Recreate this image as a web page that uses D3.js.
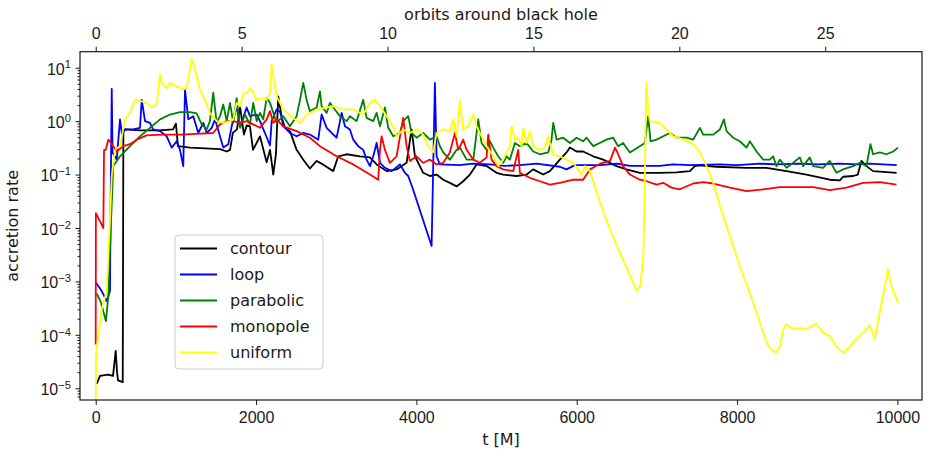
<!DOCTYPE html>
<html>
<head>
<meta charset="utf-8">
<script src="https://cdn.jsdelivr.net/npm/d3@7"></script>
<style>
    body { margin: 0; background: #fff; }
    svg { font-family: "DejaVu Sans", sans-serif; }
    .axis text { font-size: 16px; fill: #1a1a1a; }
    .axis line { stroke: #1a1a1a; }
    .axis .domain { display: none; }
    .label { font-size: 16px; fill: #1a1a1a; }
    .series { fill: none; stroke-width: 1.8; stroke-linejoin: round; }
</style>
</head>
<body>
<div id="chart"></div>
<script>
"use strict";

// series names and colours, in drawing order
const seriesNames = ["contour", "loop", "parabolic", "monopole", "uniform"];
const seriesColors = ["#000000", "#0000ff", "#008000", "#ff0000", "#ffff00"];

// [t in M, accretion rate]
const contour = [[12,1.2e-5],[54,1.7e-5],[153,1.8e-5],[216,1.7e-5],[249,5e-5],[266,2e-5],[278,1.4e-5],[337,1.3e-5],[345,0.65],[365,0.7],[552,0.67],[802,0.67],[964,0.7],[1000,0.9],[1026,0.34],[1176,0.32],[1363,0.31],[1550,0.3],[1634,0.27],[1675,0.29],[1712,0.61],[1762,0.7],[1800,1.9],[1849,0.56],[1883,0.83],[1924,0.8],[1962,0.29],[2049,0.52],[2132,0.17],[2174,0.29],[2215,0.1],[2248,0.24],[2277,2.9],[2339,0.8],[2423,0.65],[2506,0.29],[2589,0.19],[2672,0.13],[2756,0.18],[2834,0.155],[2963,0.116],[3025,0.22],[3130,0.24],[3296,0.22],[3420,0.21],[3504,0.155],[3629,0.116],[3753,0.125],[3878,0.166],[3940,0.7],[3982,0.22],[4085,0.108],[4169,0.094],[4252,0.1],[4335,0.08],[4418,0.07],[4502,0.06],[4584,0.075],[4668,0.1],[4751,0.155],[4876,0.144],[5000,0.108],[5083,0.1],[5250,0.094],[5375,0.1],[5457,0.125],[5582,0.1],[5665,0.116],[5790,0.19],[5873,0.26],[5915,0.32],[5998,0.27],[6080,0.27],[6205,0.22],[6330,0.19],[6497,0.144],[6621,0.125],[6787,0.108],[7037,0.108],[7245,0.11],[7411,0.116],[7474,0.144],[7536,0.148],[7744,0.14],[8118,0.134],[8367,0.134],[8617,0.116],[8866,0.1],[9157,0.08],[9282,0.078],[9323,0.091],[9447,0.094],[9506,0.1],[9552,0.18],[9614,0.144],[9697,0.116],[9990,0.108]];

const loop = [[4,9.4e-4],[75,6.6e-4],[137,4.3e-4],[178,6.6e-4],[191,0.19],[200,4.0],[210,0.26],[262,0.19],[303,1.08],[328,0.56],[365,0.7],[465,0.7],[552,0.75],[574,2.5],[615,1.0],[677,0.93],[715,0.7],[802,0.65],[885,0.52],[948,0.32],[1010,0.42],[1051,0.29],[1092,0.144],[1114,3.9],[1155,1.08],[1217,1.24],[1279,0.6],[1342,0.93],[1384,0.6],[1447,0.75],[1488,1.08],[1550,0.52],[1591,0.32],[1654,0.37],[1696,0.8],[1758,1.9],[1800,0.8],[1883,1.8],[1924,1.24],[2008,1.33],[2049,1.0],[2111,0.6],[2174,0.35],[2195,1.0],[2257,1.66],[2298,1.5],[2361,0.75],[2423,0.6],[2506,0.52],[2589,0.6],[2672,0.56],[2776,0.45],[2818,1.33],[2881,0.75],[2943,0.6],[3005,0.49],[3068,1.43],[3109,0.8],[3171,0.7],[3212,0.45],[3275,0.34],[3337,0.29],[3379,0.19],[3421,0.144],[3462,0.22],[3504,0.39],[3546,0.166],[3608,0.134],[3691,0.116],[3795,0.155],[3857,0.108],[3898,0.094],[3960,0.052],[4190,0.0046],[4231,5.2],[4252,0.22],[4293,0.155],[4543,0.15],[4700,0.16],[4917,0.155],[5100,0.145],[5291,0.15],[5500,0.16],[5790,0.14],[5873,0.125],[5977,0.15],[6291,0.15],[6500,0.16],[6665,0.145],[7037,0.145],[7200,0.155],[7411,0.15],[7785,0.155],[8000,0.15],[8283,0.16],[8500,0.155],[8782,0.16],[9000,0.155],[9282,0.16],[9500,0.155],[9656,0.16],[9992,0.15]];

const parabolic = [[12,6e-4],[66,4e-4],[128,1.8e-4],[157,5.3e-4],[187,0.0093],[219,0.144],[303,0.22],[428,0.34],[552,0.52],[677,0.75],[802,1.08],[927,1.33],[1051,1.47],[1176,1.47],[1259,1.4],[1322,0.87],[1384,0.7],[1425,1.0],[1466,3.4],[1509,0.93],[1550,1.24],[1591,2.05],[1634,1.0],[1675,2.2],[1716,0.93],[1758,2.7],[1800,0.75],[1862,1.33],[1924,0.87],[1965,2.2],[2008,1.0],[2049,1.43],[2090,1.08],[2132,2.7],[2174,2.2],[2257,0.93],[2298,1.08],[2339,1.24],[2423,0.8],[2506,1.24],[2548,2.5],[2589,5.2],[2631,2.5],[2672,1.54],[2756,1.8],[2797,3.6],[2818,1.9],[2881,1.43],[2922,2.2],[2963,1.8],[3046,1.24],[3130,1.0],[3171,1.24],[3254,1.0],[3337,2.5],[3379,1.15],[3462,1.0],[3504,1.43],[3546,0.8],[3608,1.8],[3649,0.75],[3711,0.52],[3795,0.6],[3836,1.0],[3898,1.24],[3940,0.6],[4003,0.49],[4085,0.6],[4169,0.45],[4252,0.52],[4293,0.34],[4335,0.26],[4418,0.19],[4502,0.29],[4543,0.32],[4627,0.19],[4710,0.19],[4772,1.08],[4813,0.39],[4876,0.29],[4917,0.42],[4958,0.32],[5020,0.22],[5083,0.166],[5125,0.22],[5166,0.19],[5229,0.39],[5291,0.34],[5375,0.39],[5457,0.27],[5541,0.24],[5644,0.26],[5686,0.45],[5707,0.93],[5749,0.45],[5831,0.49],[5915,0.39],[5998,0.49],[6080,0.42],[6123,0.49],[6205,0.34],[6288,0.39],[6372,0.45],[6455,0.49],[6517,0.34],[6579,0.39],[6663,0.26],[6787,0.34],[6850,0.39],[6891,1.24],[6921,0.42],[6996,0.45],[7079,0.52],[7162,0.6],[7245,0.49],[7370,0.49],[7453,0.45],[7536,0.75],[7578,0.56],[7703,0.56],[7786,0.7],[7836,1.08],[7869,0.65],[7951,0.49],[8035,0.42],[8118,0.32],[8160,0.42],[8243,0.27],[8326,0.19],[8409,0.19],[8450,0.22],[8492,0.144],[8534,0.19],[8617,0.134],[8700,0.166],[8783,0.21],[8824,0.144],[8907,0.21],[8949,0.144],[9073,0.134],[9157,0.18],[9240,0.108],[9323,0.125],[9447,0.144],[9531,0.166],[9614,0.144],[9664,0.37],[9697,0.24],[9780,0.26],[9864,0.24],[9947,0.27],[10009,0.32]];

const monopole = [[0,6.6e-5],[2,0.019],[54,0.0133],[95,0.01],[104,0.29],[125,0.29],[157,0.45],[203,0.37],[262,0.27],[344,0.34],[428,0.37],[511,0.45],[636,0.54],[843,0.56],[1051,0.56],[1259,0.58],[1466,0.6],[1550,0.87],[1634,1.0],[1716,1.0],[1800,0.93],[1883,1.0],[1965,0.87],[2049,0.75],[2132,1.08],[2174,1.54],[2215,0.93],[2257,1.08],[2339,0.8],[2506,0.65],[2672,0.49],[2797,0.34],[3005,0.22],[3212,0.155],[3421,0.1],[3524,0.08],[3546,0.29],[3566,0.52],[3608,0.29],[3670,0.166],[3753,0.22],[3836,1.15],[3878,0.34],[3919,0.18],[4003,0.22],[4085,0.166],[4169,0.19],[4252,0.155],[4335,0.166],[4418,0.26],[4480,0.6],[4522,0.29],[4584,0.45],[4627,0.29],[4710,0.19],[4793,0.166],[4876,0.21],[4896,0.56],[4938,0.19],[5000,0.144],[5083,0.125],[5208,0.116],[5270,0.29],[5291,0.108],[5416,0.087],[5541,0.075],[5665,0.065],[5790,0.07],[5956,0.08],[6080,0.08],[6165,0.125],[6291,0.16],[6415,0.18],[6478,0.32],[6517,0.24],[6579,0.144],[6663,0.1],[6787,0.08],[6871,0.075],[6996,0.065],[7079,0.07],[7183,0.057],[7287,0.053],[7453,0.068],[7578,0.072],[7703,0.068],[7911,0.057],[8118,0.049],[8326,0.053],[8534,0.058],[8949,0.058],[9157,0.051],[9365,0.057],[9572,0.07],[9780,0.072],[9989,0.065]];

const uniform = [[0,6.2e-6],[5,4.5e-5],[75,3e-4],[137,6.5e-4],[178,0.014],[200,0.094],[241,0.29],[303,0.34],[365,1.08],[428,1.43],[490,2.5],[552,2.4],[636,2.2],[698,1.8],[761,2.05],[802,7.5],[823,5.2],[885,4.2],[927,5.2],[1010,4.5],[1092,3.9],[1135,4.2],[1197,14.7],[1238,9.3],[1301,3.9],[1363,2.5],[1425,1.43],[1509,1.0],[1591,0.93],[1675,1.0],[1716,1.08],[1758,2.2],[1800,1.9],[1841,3.2],[1903,3.6],[1924,4.2],[1965,3.4],[2008,2.5],[2070,2.7],[2132,2.5],[2174,3.4],[2195,11.5],[2215,7.0],[2257,2.9],[2339,1.66],[2464,1.15],[2548,0.93],[2631,1.33],[2756,1.66],[2963,1.9],[3088,1.66],[3212,1.66],[3337,1.33],[3421,2.2],[3483,2.5],[3546,1.9],[3629,1.24],[3711,0.8],[3753,0.52],[3836,0.7],[3919,0.6],[4003,0.7],[4085,0.56],[4148,0.34],[4210,0.26],[4252,0.6],[4335,0.7],[4418,0.65],[4460,1.08],[4502,0.52],[4543,2.4],[4584,0.7],[4646,0.8],[4710,1.33],[4751,0.8],[4813,0.52],[4876,0.34],[4958,0.22],[5020,0.144],[5083,0.19],[5166,0.34],[5187,0.8],[5229,0.45],[5270,0.49],[5312,0.34],[5333,0.75],[5375,0.39],[5416,0.65],[5457,0.34],[5541,0.29],[5603,0.32],[5644,0.52],[5665,0.39],[5707,0.24],[5790,0.22],[5873,0.19],[5956,0.166],[6018,0.125],[6060,0.1],[6102,0.144],[6165,0.116],[6291,0.03],[6415,0.0093],[6540,0.0034],[6665,0.0013],[6748,6.6e-4],[6789,8e-4],[6830,0.0026],[6851,0.094],[6864,3.4],[6871,5.2],[6891,1.66],[6912,1.0],[7037,0.93],[7120,0.7],[7203,0.52],[7333,0.45],[7458,0.37],[7536,0.26],[7619,0.144],[7703,0.07],[7786,0.026],[7911,0.007],[8035,0.0019],[8160,6e-4],[8284,1.7e-4],[8367,7.1e-5],[8430,5.2e-5],[8492,4.6e-5],[8534,6e-5],[8575,1.26e-4],[8617,1.6e-4],[8700,1.26e-4],[8783,1.35e-4],[8866,1.26e-4],[8907,1.4e-4],[8990,1.6e-4],[9073,1.1e-4],[9157,9.4e-5],[9240,6e-5],[9323,4.6e-5],[9406,6e-5],[9489,8.3e-5],[9572,1.1e-4],[9656,1.5e-4],[9718,8.3e-5],[9780,2.6e-4],[9843,8.1e-4],[9884,0.0017],[9926,8.1e-4],[10009,3.9e-4]];

// axes
const tTicks = [0, 2000, 4000, 6000, 8000, 10000];
const orbitTicks = [0, 5, 10, 15, 20, 25];
const orbitPeriod = 364;           // M per orbit
const yExponents = [-5, -4, -3, -2, -1, 0, 1];
const tDomain = [-196, 10307];
const yDomain = [Math.pow(10, -5.22), Math.pow(10, 1.3)];

class AccretionChart {

    constructor(selector) {
        this.width = 937;
        this.height = 456;
        this.margin = {top: 51.7, right: 15, bottom: 56, left: 80};
        this.svg = d3.select(selector)
            .append("svg")
            .attr("width", this.width)
            .attr("height", this.height);
    }

    build() {
        const m = this.margin;
        const w = this.width - m.left - m.right;
        const h = this.height - m.top - m.bottom;
        const svg = this.svg;
        const g = svg.append("g").attr("transform", `translate(${m.left},${m.top})`);

        const x = d3.scaleLinear().domain(tDomain).range([0, w]);
        const xOrbit = d3.scaleLinear().domain(tDomain.map(t => t / orbitPeriod)).range([0, w]);
        const y = d3.scaleLog().domain(yDomain).range([h, 0]);

        svg.append("defs").append("clipPath").attr("id", "plot-clip")
            .append("rect").attr("width", w).attr("height", h);

        // data lines
        const line = d3.line().x(d => x(d[0])).y(d => y(d[1]));
        const allSeries = [contour, loop, parabolic, monopole, uniform];
        const lines = g.append("g").attr("clip-path", "url(#plot-clip)");
        allSeries.forEach((data, i) => {
            lines.append("path")
                .datum(data)
                .attr("class", "series")
                .attr("stroke", seriesColors[i])
                .attr("d", line);
        });

        // bottom axis
        g.append("g")
            .attr("class", "axis")
            .attr("transform", `translate(0,${h})`)
            .call(d3.axisBottom(x).tickValues(tTicks).tickSize(5).tickPadding(7).tickFormat(d3.format("d")));

        // top axis (orbits)
        g.append("g")
            .attr("class", "axis")
            .call(d3.axisTop(xOrbit).tickValues(orbitTicks).tickSize(5).tickPadding(8).tickFormat(d3.format("d")));

        // left log axis, minor ticks first
        const minor = [];
        for (let e = -6; e <= 1; e++) {
            for (let k = 2; k <= 9; k++) {
                const v = k * Math.pow(10, e);
                if (v >= yDomain[0] && v <= yDomain[1]) minor.push(v);
            }
        }
        g.append("g")
            .attr("class", "axis")
            .call(d3.axisLeft(y).tickValues(minor).tickSize(2.5).tickFormat(""));

        const yAxis = g.append("g")
            .attr("class", "axis")
            .call(d3.axisLeft(y).tickValues(yExponents.map(e => Math.pow(10, e))).tickSize(4.5).tickFormat(""));
        yAxis.selectAll(".tick").each(function (d) {
            const e = Math.round(Math.log10(d));
            const text = d3.select(this).append("text")
                .attr("x", -9)
                .attr("dy", "0.4em")
                .attr("text-anchor", "end");
            text.append("tspan").text("10");
            text.append("tspan")
                .attr("dy", "-0.55em")
                .style("font-size", "11.2px")
                .text(e < 0 ? "\u2212" + (-e) : String(e));
        });

        // frame
        g.append("rect")
            .attr("width", w)
            .attr("height", h)
            .attr("fill", "none")
            .attr("stroke", "#1a1a1a")
            .attr("stroke-width", 1.2);

        // axis titles
        svg.append("text").attr("class", "label")
            .attr("text-anchor", "middle")
            .attr("x", m.left + w / 2).attr("y", 445)
            .text("t [M]");
        svg.append("text").attr("class", "label")
            .attr("text-anchor", "middle")
            .attr("x", m.left + w / 2).attr("y", 19.5)
            .text("orbits around black hole");
        svg.append("text").attr("class", "label")
            .attr("text-anchor", "middle")
            .attr("transform", `translate(18,${m.top + h / 2}) rotate(-90)`)
            .text("accretion rate");

        // legend
        const legend = svg.append("g").attr("transform", "translate(175,235)");
        legend.append("rect")
            .attr("width", 148).attr("height", 134)
            .attr("rx", 4)
            .attr("fill", "#fff").attr("fill-opacity", 0.8)
            .attr("stroke", "#cccccc");
        seriesNames.forEach((name, i) => {
            const row = legend.append("g").attr("transform", `translate(0,${13.5 + i * 26})`);
            row.append("line")
                .attr("x1", 5).attr("x2", 42)
                .attr("stroke", seriesColors[i])
                .attr("stroke-width", 2);
            row.append("text").attr("class", "label")
                .attr("x", 55).attr("dy", "0.35em")
                .text(name);
        });
    }
}

new AccretionChart("#chart").build();
</script>
</body>
</html>
